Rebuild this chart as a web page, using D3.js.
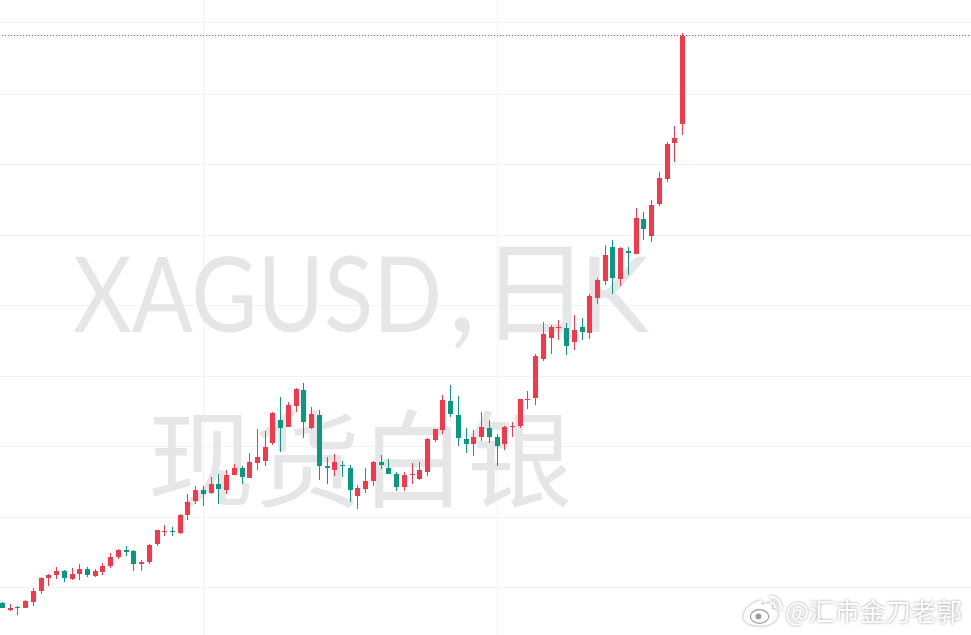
<!DOCTYPE html>
<html>
<head>
<meta charset="utf-8">
<script src="https://cdn.jsdelivr.net/npm/d3@7"></script>
<style>
    html, body { margin: 0; padding: 0; background: #fff; overflow: hidden; }
    svg { display: block; }
</style>
</head>
<body>
<div id="viz"></div>
<script>
// no axis labels in the picture, so prices are read in chart units (0.1 = 1px)
const opens = [39.7,39.0,39.3,39.2,39.8,40.9,42.2,42.5,42.9,42.1,42.6,43.1,42.4,42.8,43.4,44.3,45.0,44.9,43.6,43.8,
    45.6,46.8,46.9,46.7,48.5,49.9,51.0,50.7,51.6,51.0,52.5,53.2,52.2,53.7,53.9,55.7,58.0,57.3,59.4,61.0,
    57.2,58.5,53.4,53.0,53.5,53.2,50.4,51.1,51.9,53.8,53.2,52.6,51.3,52.5,52.1,52.8,56.0,57.0,59.9,58.5,
    56.1,55.6,56.3,57.2,56.3,55.6,57.3,57.4,60.0,60.2,64.1,66.2,67.2,67.2,65.8,67.3,66.7,70.2,71.9,75.3,
    72.1,74.9,74.6,78.1,76.4,79.6,82.1,85.7,87.6];
const highs = [39.8,39.6,39.4,40.0,41.2,42.3,42.6,43.3,43.0,43.2,43.6,43.3,43.1,43.7,44.7,45.1,45.4,45.0,44.0,45.6,
    47.0,47.5,47.3,48.6,50.6,51.4,51.4,52.3,52.6,53.0,53.6,53.4,54.7,57.1,56.9,58.8,60.3,59.8,61.2,61.7,
    59.3,59.0,54.3,54.6,53.9,53.5,51.5,53.2,53.9,54.5,54.1,52.8,52.8,53.7,53.8,56.2,57.1,60.5,61.5,60.4,
    57.2,57.0,58.8,58.0,56.6,57.4,57.8,60.1,60.9,64.6,67.8,67.5,68.0,67.7,68.5,68.2,70.6,72.2,75.5,76.0,
    75.3,75.3,79.2,78.8,80.0,82.8,85.8,87.4,96.7];
const lows = [39.2,38.9,38.5,39.2,39.4,40.6,41.4,42.1,41.8,42.0,42.0,42.3,42.3,42.5,43.2,44.1,44.4,42.9,42.9,43.6,
    45.4,46.4,46.4,46.6,48.0,49.6,49.4,50.6,49.6,50.6,52.5,51.6,52.2,53.0,53.4,55.5,54.8,57.3,58.8,56.2,
    57.1,52.0,51.6,52.4,52.3,49.8,49.1,50.7,51.4,53.1,52.6,50.9,50.9,51.6,52.0,52.4,55.8,56.6,58.3,55.4,
    54.7,54.4,55.9,55.7,53.4,55.0,56.3,57.2,59.1,59.5,63.9,64.6,66.0,64.5,65.0,66.0,66.1,69.6,71.5,70.6,
    71.4,72.5,74.6,76.0,75.8,79.4,81.8,83.8,86.5];
const closes = [39.2,39.2,39.2,39.9,40.9,42.2,42.5,42.9,42.2,42.6,43.1,42.5,42.9,43.4,44.3,45.0,44.8,43.6,43.8,45.5,
    47.0,46.9,46.8,48.5,49.8,51.0,50.6,51.6,51.1,52.5,53.2,52.3,53.8,54.3,55.3,58.7,57.2,59.5,61.1,57.8,
    58.6,53.4,53.2,53.8,53.4,51.0,51.2,51.9,53.8,53.5,52.6,51.3,52.5,52.6,53.0,56.1,57.1,60.0,58.6,56.2,
    55.6,56.3,57.3,56.3,55.4,57.3,57.4,60.1,60.1,64.4,66.6,67.3,67.3,65.4,67.0,66.8,70.4,72.0,74.5,72.2,
    75.2,74.7,78.2,77.1,79.5,82.2,85.6,86.2,96.4];

const gridPrices = [97.7,90.6,83.6,76.5,69.5,62.4,55.4,48.3,41.3];
const gridBars = [26,64];
const lastPrice = closes[closes.length - 1];
const watermarkParts = ["XAGUSD", ",", "日", "K"];
const watermarkSub = "现货白银";
const credit = "@汇市金刀老郭";

const width = 971;
const height = 635;
const upColor = "#f7374a";
const downColor = "#089981";
const gridColor = "#f0f3fa";
const markColor = "#e6e6e8";
const textFont = "'Noto Sans CJK SC', 'Noto Sans', sans-serif";
const latinFont = "Lato, 'Noto Sans CJK SC', sans-serif";

const svg = d3.select("#viz").append("svg")
    .attr("width", width)
    .attr("height", height);

const x = d3.scaleLinear().domain([0, 88]).range([2.5, 682.5]);
const y = d3.scaleLinear().domain([100, 36.5]).range([0, 635]);

const crisp = v => Math.floor(v) + 0.5;

// grid
svg.append("g")
    .selectAll("line")
    .data(gridPrices)
    .enter()
    .append("line")
    .attr("x1", 0)
    .attr("x2", width)
    .attr("y1", d => crisp(y(d)))
    .attr("y2", d => crisp(y(d)))
    .attr("stroke", gridColor);

svg.append("g")
    .selectAll("line")
    .data(gridBars)
    .enter()
    .append("line")
    .attr("x1", d => crisp(x(d)))
    .attr("x2", d => crisp(x(d)))
    .attr("y1", 0)
    .attr("y2", height)
    .attr("stroke", gridColor);

// watermark goes over the grid, under the candles
// the first line is narrower than any installed font, so it is placed part by part
const partX = [73, 448, 480, 580];
const partSize = [104, 125, 110, 104];
svg.append("text")
    .attr("y", 332)
    .attr("font-family", latinFont)
    .attr("fill", markColor)
    .selectAll("tspan")
    .data(watermarkParts)
    .enter()
    .append("tspan")
    .attr("x", (d, i) => partX[i])
    .attr("font-size", (d, i) => partSize[i] + "px")
    .attr("font-family", (d, i) => i === 2 ? textFont : null)
    .attr("textLength", (d, i) => i === 0 ? 369 : null)
    .attr("lengthAdjust", (d, i) => i === 0 ? "spacingAndGlyphs" : null)
    .text(d => d);

svg.append("text")
    .attr("x", 360)
    .attr("y", 499)
    .attr("text-anchor", "middle")
    .attr("font-family", textFont)
    .attr("font-size", "106px")
    .attr("fill", markColor)
    .text(watermarkSub);

// last price line
svg.append("line")
    .attr("x1", 0)
    .attr("x2", width)
    .attr("y1", crisp(y(lastPrice)))
    .attr("y2", crisp(y(lastPrice)))
    .attr("stroke", upColor)
    .attr("stroke-dasharray", "1,2")
    .attr("stroke-dashoffset", -2);

// candles
const candles = svg.append("g")
    .selectAll("g")
    .data(opens.map((o, i) => i))
    .enter()
    .append("g")
    .attr("fill", i => closes[i] >= opens[i] ? upColor : downColor)
    .attr("stroke", i => closes[i] >= opens[i] ? upColor : downColor);

candles.append("line")
    .attr("x1", i => crisp(x(i)))
    .attr("x2", i => crisp(x(i)))
    .attr("y1", i => Math.round(y(highs[i])))
    .attr("y2", i => Math.round(y(lows[i])));

candles.append("rect")
    .attr("x", i => Math.floor(x(i)) - 2)
    .attr("width", 5)
    .attr("y", i => Math.round(y(Math.max(opens[i], closes[i]))))
    .attr("height", i => Math.max(1, Math.abs(y(opens[i]) - y(closes[i]))))
    .attr("stroke", "none");

// weibo credit, bottom right
const creditShadow = "drop-shadow(0 0 1.5px rgba(110,110,110,0.7))";

svg.append("text")
    .attr("x", 785)
    .attr("y", 621)
    .attr("font-family", textFont)
    .attr("font-size", "25.5px")
    .attr("fill", "#fff")
    .style("filter", creditShadow)
    .text(credit);

const logo = svg.append("g")
    .attr("transform", "translate(763,613) scale(1.15)")
    .style("filter", creditShadow);

logo.append("path")
    .attr("d", "M-1,-11 C-9,-10 -17,-3 -17,3 C-17,9 -9,11 -2,11 C7,11 13,6 13,1 C13,-3 9,-3 8,-4 C9,-8 6,-9 2,-8 C-1,-7 -2,-7 -1,-11Z")
    .attr("fill", "#fff");
logo.append("ellipse")
    .attr("cx", -3).attr("cy", 3).attr("rx", 8).attr("ry", 6)
    .attr("fill", "#fff").attr("stroke", "#9a9a9a").attr("stroke-width", 1);
logo.append("circle")
    .attr("cx", -4).attr("cy", 3).attr("r", 2.5)
    .attr("fill", "#9a9a9a");
logo.append("path")
    .attr("d", "M6,-14 C12,-14 17,-9 15,-3")
    .attr("fill", "none").attr("stroke", "#fff").attr("stroke-width", 2);
logo.append("path")
    .attr("d", "M6,-9 C9,-9 11,-7 10,-4")
    .attr("fill", "none").attr("stroke", "#fff").attr("stroke-width", 2);
</script>
</body>
</html>
